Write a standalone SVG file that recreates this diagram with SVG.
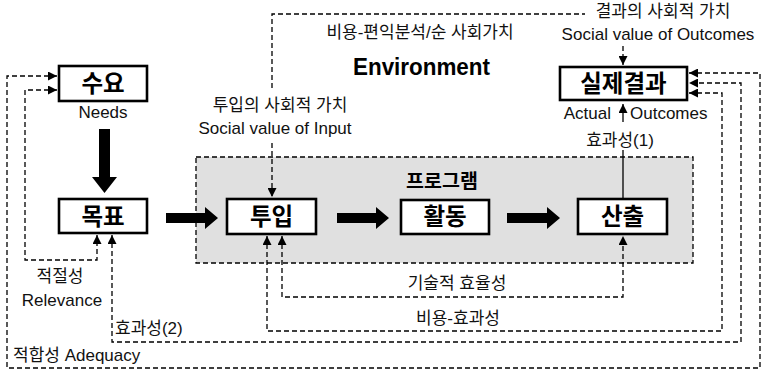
<svg xmlns="http://www.w3.org/2000/svg" width="765" height="373" viewBox="0 0 765 373">
<defs>
<marker id="ah" viewBox="0 0 10 10" refX="10" refY="5" markerWidth="9" markerHeight="9" markerUnits="userSpaceOnUse" orient="auto-start-reverse">
<path d="M0,0 L10,5 L0,10 Z" fill="#000"/>
</marker>
<style>
.box{fill:#fff;stroke:#000;stroke-width:2.6}
.bl{font-family:"Noto Sans CJK KR","Liberation Sans",sans-serif;font-weight:bold;font-size:23.5px;text-anchor:middle;fill:#000}
.lb{font-family:"Liberation Sans","Noto Sans CJK KR",sans-serif;font-size:17px;fill:#111}
.c{text-anchor:middle}
.d{fill:none;stroke:#000;stroke-width:1.3;stroke-dasharray:5 3}
.s{fill:none;stroke:#000;stroke-width:1.3}
</style>
</defs>
<rect x="0" y="0" width="765" height="373" fill="#fff"/>
<g id="program">
<rect x="196" y="157" width="497" height="106" fill="#e0e0e0" stroke="#000" stroke-width="1.3" stroke-dasharray="5 3"/>
<text x="442" y="188" class="bl" style="font-size:19.5px">프로그램</text>
</g>
<g id="labels">
<text x="420" y="38" class="lb c">비용-편익분석/순 사회가치</text>
<text x="353" y="75" style="font-family:'Liberation Sans',sans-serif;font-weight:bold;font-size:23px" textLength="137" lengthAdjust="spacingAndGlyphs">Environment</text>
<text x="663" y="17" class="lb c">결과의 사회적 가치</text>
<text x="658" y="40" class="lb c">Social value of Outcomes</text>
<text x="280" y="111" class="lb c">투입의 사회적 가치</text>
<text x="275" y="134" class="lb c">Social value of Input</text>
<text x="103" y="118" class="lb c">Needs</text>
<text x="611" y="119" class="lb" text-anchor="end">Actual</text>
<text x="630" y="119" class="lb">Outcomes</text>
<text x="620" y="146" class="lb c">효과성(1)</text>
<text x="60" y="282" class="lb c">적절성</text>
<text x="62" y="306" class="lb c">Relevance</text>
<text x="115" y="334" class="lb">효과성(2)</text>
<text x="13" y="361" class="lb">적합성 Adequacy</text>
<text x="457" y="289" class="lb c">기술적 효율성</text>
<text x="458" y="324" class="lb c">비용-효과성</text>
</g>
<g id="connectors">
<polygon points="99,129 110,129 110,177 117,177 104.5,193 92,177 99,177" fill="#000"/>
<polygon points="166,213 205,213 205,207 218,218 205,229 205,223 166,223" fill="#000"/>
<polygon points="337,213 376,213 376,207 389,218 376,229 376,223 337,223" fill="#000"/>
<polygon points="507,213 547,213 547,207 560,218 547,229 547,223 507,223" fill="#000"/>
<path class="d" d="M272,88 V14 H585"/>
<path class="d" d="M272,143 V197" marker-end="url(#ah)"/>
<path class="d" d="M623,46 V65" marker-end="url(#ah)"/>
<path class="s" d="M623,199 V150"/>
<path class="s" d="M623,122 V104" marker-end="url(#ah)"/>
<path class="d" d="M57,76 H7 V368 H760 V73 H689" marker-start="url(#ah)" marker-end="url(#ah)"/>
<path class="d" d="M57,90 H25 V260 H97 V235" marker-start="url(#ah)" marker-end="url(#ah)"/>
<path class="d" d="M112,235 V342 H741 V83 H689" marker-start="url(#ah)" marker-end="url(#ah)"/>
<path class="d" d="M267,236 V331 H722 V93 H689" marker-start="url(#ah)" marker-end="url(#ah)"/>
<path class="d" d="M282,236 V297 H623 V236" marker-start="url(#ah)" marker-end="url(#ah)"/>
</g>
<g id="n-needs"><rect class="box" x="59" y="66" width="88" height="35"/><text x="103" y="92" class="bl">수요</text></g>
<g id="n-goal"><rect class="box" x="59" y="199" width="88" height="34"/><text x="103" y="225" class="bl">목표</text></g>
<g id="n-input"><rect class="box" x="227" y="199" width="89" height="35"/><text x="271.5" y="225" class="bl">투입</text></g>
<g id="n-activity"><rect class="box" x="401" y="200" width="88" height="34"/><text x="445" y="225" class="bl">활동</text></g>
<g id="n-output"><rect class="box" x="578" y="199" width="89" height="35"/><text x="622.5" y="225" class="bl">산출</text></g>
<g id="n-outcome"><rect class="box" x="560" y="67" width="127" height="33"/><text x="623.5" y="92" class="bl">실제결과</text></g>
</svg>
